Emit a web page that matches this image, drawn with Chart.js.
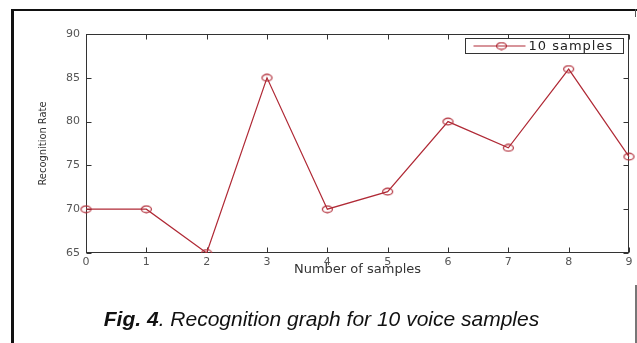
<!DOCTYPE html>
<html>
<head>
<meta charset="utf-8">
<script src="https://cdn.jsdelivr.net/npm/chart.js@4.4.1/dist/chart.umd.min.js"></script>
<style>
  html, body { margin: 0; padding: 0; background: #fff; }
  body { width: 637px; height: 343px; position: relative; overflow: hidden; }
  #wrap { position: absolute; left: 0; top: 0; width: 637px; height: 300px; }
  .rule { position: absolute; }
  #caption {
    position: absolute; left: 0; width: 643px; top: 309px;
    text-align: center; font-family: "Liberation Sans", Arial, sans-serif;
    font-size: 21px; line-height: 20px; font-style: italic; color: #111;
  }
</style>
</head>
<body>
<div id="wrap"><canvas id="chart"></canvas></div>
<div class="rule" style="left:11px;top:9px;width:626px;height:2px;background:#111"></div>
<div class="rule" style="left:11px;top:9px;width:3px;height:334px;background:#111"></div>
<div class="rule" style="left:635px;top:9px;width:1px;height:8px;background:#555"></div>
<div class="rule" style="left:635px;top:285px;width:2px;height:58px;background:#777"></div>
<div id="caption"><b>Fig. 4</b>. Recognition graph for 10 voice samples</div>
<script>
// Samples along the x axis and recognition rate measured for each
const sampleLabels = ['0', '1', '2', '3', '4', '5', '6', '7', '8', '9'];
const recognitionRate = [70, 70, 65, 85, 70, 72, 80, 77, 86, 76];
const seriesName = '10 samples';
const yMin = 65, yMax = 90, yStep = 5;

const lineColor = '#b02a36';

// Open ellipse marker
function makeMarker() {
  const c = document.createElement('canvas');
  c.width = 13; c.height = 9;
  const g = c.getContext('2d');
  g.strokeStyle = lineColor;
  g.lineWidth = 1.2;
  g.beginPath();
  g.ellipse(6.5, 4.5, 5, 3.3, 0, 0, Math.PI * 2);
  g.stroke();
  return c;
}
const marker = makeMarker();

// Boxed axes with inward tick marks on all four sides
const boxAxes = {
  id: 'boxAxes',
  beforeDatasetsDraw(chart) {
    const { ctx, chartArea: a, scales: { x, y } } = chart;
    const L = Math.round(a.left) + 0.5, R = Math.round(a.right) - 0.5;
    const T = Math.round(a.top) + 0.5, B = Math.round(a.bottom) - 0.5;
    const tl = 5;
    ctx.save();
    ctx.strokeStyle = '#333';
    ctx.lineWidth = 1;
    ctx.strokeRect(L, T, R - L, B - T);
    ctx.beginPath();
    x.ticks.forEach((t, i) => {
      const px = Math.round(x.getPixelForTick(i)) + 0.5;
      ctx.moveTo(px, B); ctx.lineTo(px, B - tl);
      ctx.moveTo(px, T); ctx.lineTo(px, T + tl);
    });
    y.ticks.forEach((t, i) => {
      const py = Math.round(y.getPixelForTick(i)) + 0.5;
      ctx.moveTo(L, py); ctx.lineTo(L + tl, py);
      ctx.moveTo(R, py); ctx.lineTo(R - tl, py);
    });
    ctx.stroke();
    ctx.restore();
  },
  afterDatasetsDraw(chart) {
    // Legend box in the upper right corner of the plot
    const { ctx, chartArea: a } = chart;
    const ds = chart.data.datasets[0];
    const bx = a.right - 163.5, by = a.top + 4.5, bw = 158, bh = 15;
    ctx.save();
    ctx.fillStyle = '#fff';
    ctx.fillRect(bx, by, bw, bh);
    ctx.strokeStyle = '#333';
    ctx.lineWidth = 1;
    ctx.strokeRect(bx, by, bw, bh);
    const cy = by + bh / 2;
    ctx.strokeStyle = ds.borderColor;
    ctx.lineWidth = 1.2;
    ctx.beginPath();
    ctx.moveTo(bx + 8, cy); ctx.lineTo(bx + 60, cy);
    ctx.stroke();
    ctx.drawImage(marker, bx + 36 - marker.width / 2, cy - marker.height / 2);
    ctx.fillStyle = '#222';
    ctx.font = '13px "DejaVu Sans", sans-serif';
    ctx.textBaseline = 'middle';
    if ('letterSpacing' in ctx) ctx.letterSpacing = '1px';
    ctx.fillText(ds.label, bx + 63, cy + 0.5);
    ctx.restore();
  }
};

new Chart(document.getElementById('chart'), {
  type: 'line',
  data: {
    labels: sampleLabels,
    datasets: [{
      label: seriesName,
      data: recognitionRate,
      borderColor: lineColor,
      borderWidth: 1.2,
      backgroundColor: 'rgba(0,0,0,0)',
      pointStyle: marker,
      pointRadius: 5,
      tension: 0,
      fill: false
    }]
  },
  options: {
    responsive: true,
    maintainAspectRatio: false,
    animation: false,
    events: [],
    layout: { padding: { left: 0, top: 34, right: 8, bottom: 0 } },
    plugins: {
      legend: { display: false },
      title: { display: false },
      tooltip: { enabled: false }
    },
    scales: {
      x: {
        type: 'category',
        offset: false,
        border: { display: false },
        grid: { display: true, drawOnChartArea: false, drawTicks: false },
        ticks: {
          autoSkip: false, maxRotation: 0, padding: 3,
          color: '#555', font: { family: '"DejaVu Sans", sans-serif', size: 11 }
        },
        title: {
          display: true, text: 'Number of samples', color: '#333',
          font: { family: '"DejaVu Sans", sans-serif', size: 13 },
          padding: { top: 0, bottom: 23 }
        },
        afterFit(scale) { scale.height = 47; }
      },
      y: {
        min: yMin, max: yMax,
        border: { display: false },
        grid: { display: true, drawOnChartArea: false, drawTicks: false },
        ticks: {
          stepSize: yStep, padding: 6,
          color: '#555', font: { family: '"DejaVu Sans", sans-serif', size: 11 }
        },
        title: {
          display: true, text: 'Recognition Rate', color: '#333',
          font: { family: '"DejaVu Sans Condensed", "DejaVu Sans", sans-serif', size: 11 },
          padding: { top: 37, bottom: 0 }
        },
        afterFit(scale) { scale.width = 86; }
      }
    }
  },
  plugins: [boxAxes]
});
</script>
</body>
</html>
